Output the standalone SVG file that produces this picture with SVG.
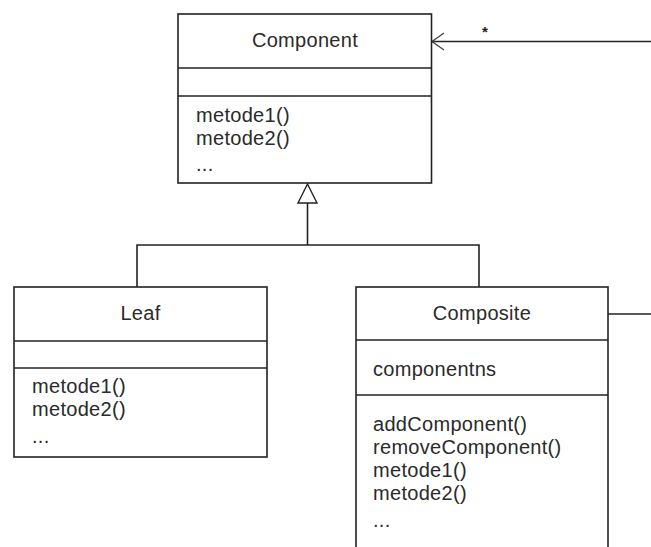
<svg xmlns="http://www.w3.org/2000/svg" width="651" height="547" viewBox="0 0 651 547">
<style>
.box{fill:#fff;stroke:#222;stroke-width:1.6}
.ln{fill:none;stroke:#222;stroke-width:1.6}
.t{font-family:"Liberation Sans",Arial,sans-serif;font-size:20px;fill:#2a2a2a;letter-spacing:0.3px}
.c{text-anchor:middle}
</style>
<rect width="651" height="547" fill="#fff"/>
<g id="connectors">
  <polyline class="ln" points="137,287 137,245 479,245 479,287"/>
  <line class="ln" x1="307.5" y1="203" x2="307.5" y2="245"/>
  <polygon points="307.5,184 298,203 317,203" fill="#fff" stroke="#222" stroke-width="1.4"/>
  <line class="ln" x1="432" y1="41.5" x2="651" y2="41.5"/>
  <polyline fill="none" stroke="#444" stroke-width="1.3" points="444,33 432,41.5 444,50"/>
  <text x="485" y="37" class="c" style="font-family:'Liberation Sans',Arial,sans-serif;font-size:15px;font-weight:bold;fill:#222">*</text>
  <line class="ln" x1="608" y1="314" x2="651" y2="314"/>
</g>
<g id="component">
  <rect class="box" x="178" y="14" width="253.5" height="169"/>
  <line class="ln" x1="178" y1="68" x2="431.5" y2="68"/>
  <line class="ln" x1="178" y1="96" x2="431.5" y2="96"/>
  <text class="t c" x="305" y="47">Component</text>
  <text class="t" x="196" y="122">metode1()</text>
  <text class="t" x="196" y="145">metode2()</text>
  <text class="t" x="196" y="171">...</text>
</g>
<g id="leaf">
  <rect class="box" x="14" y="287" width="253" height="170"/>
  <line class="ln" x1="14" y1="341" x2="267" y2="341"/>
  <line class="ln" x1="14" y1="368" x2="267" y2="368"/>
  <text class="t c" x="140.5" y="320">Leaf</text>
  <text class="t" x="32" y="393">metode1()</text>
  <text class="t" x="32" y="416">metode2()</text>
  <text class="t" x="32" y="443">...</text>
</g>
<g id="composite">
  <rect class="box" x="356" y="287" width="252" height="280"/>
  <line class="ln" x1="356" y1="340" x2="608" y2="340"/>
  <line class="ln" x1="356" y1="395" x2="608" y2="395"/>
  <text class="t c" x="482" y="320">Composite</text>
  <text class="t" x="373" y="376">componentns</text>
  <text class="t" x="373" y="431">addComponent()</text>
  <text class="t" x="373" y="454">removeComponent()</text>
  <text class="t" x="373" y="477">metode1()</text>
  <text class="t" x="373" y="500">metode2()</text>
  <text class="t" x="373" y="527">...</text>
</g>
</svg>
